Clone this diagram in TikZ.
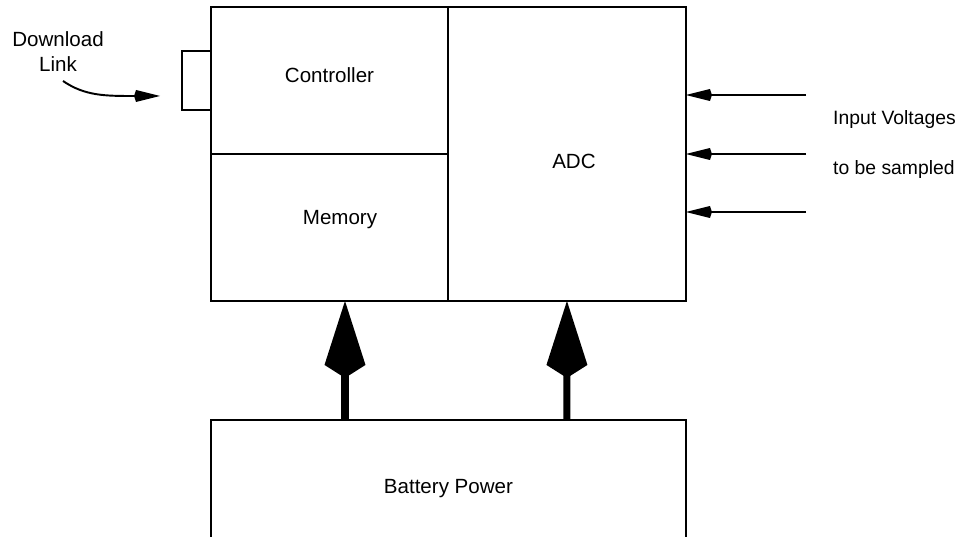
\documentclass[tikz,border=0pt]{standalone}
\usepackage{fontspec}
\setmainfont{Liberation Sans}
\usetikzlibrary{arrows.meta,positioning}

\begin{document}
\begin{tikzpicture}[
      x=0.02cm, y=-0.02cm,
      font=\fontsize{11.7}{14.2}\selectfont,
      % Reusable styles
      blk/.style={
        draw,
        line width=1.1pt,
        outer sep=0pt,
        inner sep=0pt,
        minimum width=4.74cm,
        minimum height=2.94cm
      },
      tabbox/.style={
        draw,
        line width=1.1pt,
        outer sep=0pt,
        minimum width=0.58cm,
        minimum height=1.18cm
      },
      note/.style={anchor=west, font=\fontsize{11}{13}\selectfont},
      sig/.style={-{Kite[length=0.52cm, width=0.24cm, inset=0.04cm]}, line width=1.1pt},
      power/.style={-{Kite[length=1.54cm, width=0.82cm, inset=0.26cm]}, line width=4pt}
    ]
    \useasboundingbox (0,0) rectangle (975,537);
    % Nodes
    \node[blk, label={[yshift=0.1cm]center:Controller}] (ctrl) at (329.5,80.5) {};
    \node[blk, below=0pt of ctrl, label={[xshift=0.21cm, yshift=0.16cm]center:Memory}] (mem) {};
    \node[blk, anchor=north west, minimum width=4.76cm, minimum height=5.88cm,
      label={[xshift=0.14cm, yshift=-0.15cm]center:ADC}] (adc) at (ctrl.north east) {};
    \node[tabbox, left=0pt of ctrl] (tab) {};

    \node[outer sep=0pt, minimum width=9.5cm, minimum height=2.34cm,
      below=2.38cm of mem.south west, anchor=north west,
      label={[yshift=-0.2cm]center:Battery Power}] (bat) {};

    \node[align=center] (dl) at (58,52) {Download\\Link};
    \node[note] (vin) at (827,120) {Input Voltages};
    \node[note] (vin2) at (827,170) {to be sampled};

    \coordinate (dlstart) at (63,81);
    \coordinate (dltip) at (160,96);

    % Edges
    \draw[line width=1.1pt] (bat.south west) -- (bat.north west) -- (bat.north east) -- (bat.south east);
    \draw[power] ([xshift=2.68cm]bat.north west) -- ([xshift=2.68cm]mem.south west);
    \draw[power] ([xshift=7.12cm]bat.north west) -- ([xshift=2.38cm]adc.south west);
    \draw[sig] (dlstart) .. controls (85,96) and (105,96) .. (dltip);
    \foreach \y [count=\i] in {95,154,212} {
      \coordinate (in\i) at (806,\y);
      \draw[sig] (in\i) -- (in\i -| adc.east);
    }
  \end{tikzpicture}
\end{document}
